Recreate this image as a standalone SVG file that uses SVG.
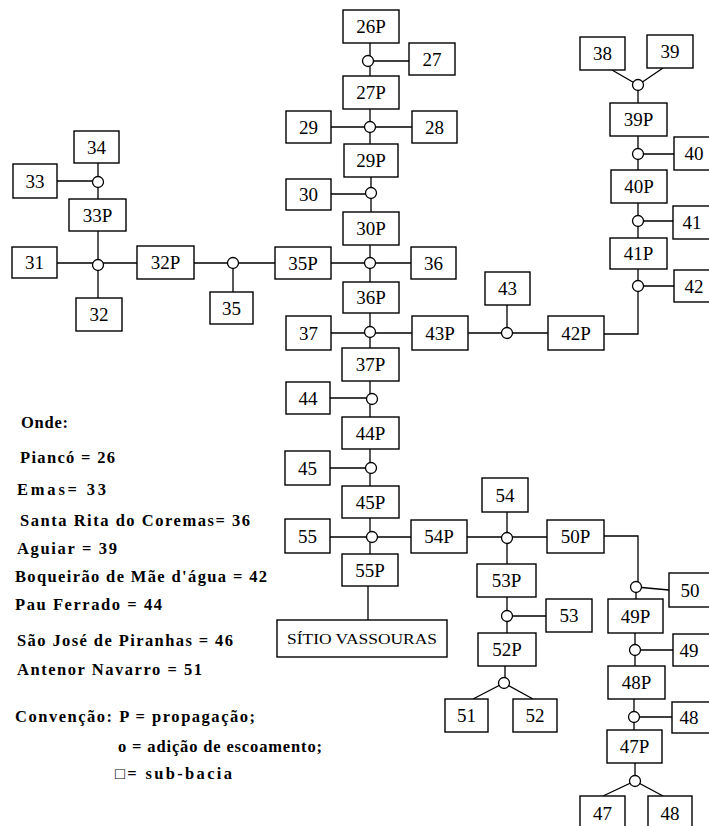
<svg xmlns="http://www.w3.org/2000/svg" width="709" height="826" viewBox="0 0 709 826">
<style>
.b{fill:#fff;stroke:#000;stroke-width:1.4}
.t{font-family:"Liberation Serif","Times New Roman",serif;font-size:19px;text-anchor:middle;fill:#000}
.s{font-family:"Liberation Serif","Times New Roman",serif;font-size:15px;text-anchor:middle;fill:#000}
.c{fill:#fff;stroke:#000;stroke-width:1.3}
.l{stroke:#000;stroke-width:1.3;fill:none}
.g{font-family:"Liberation Serif","DejaVu Serif",serif;font-size:16.5px;font-weight:bold;fill:#000}
</style>
<rect width="709" height="826" fill="#fff"/>
<g id="connectors" class="l">
<path d="M98,163V199M57,181H98M98,231V298M57,263H137M194,263H275M233,263V292M331,263H411M370,245V282"/>
<path d="M370,43V76M368,61H409M370,109V144M331,127H412M371,177V212M331,194H371"/>
<path d="M370,313V348M331,333H412M468,333H548M507,305V333M604,334H638V269M638,286H674M638,203V238M638,221H673M638,136V170M638,154H674M612,70L638,85L663,68M638,85V103"/>
<path d="M370,381V417M330,398H372M370,449V486M330,468H371M370,518V554M330,537H411M368,586V620"/>
<path d="M467,537H547M507,512V564M604,536H638V587M636,587L669,590M636,587V599M507,597V633M507,616H546M505,666V683M473,699L504,683L533,699"/>
<path d="M635,633V666M635,650H673M634,699V730M634,717H672M635,763V781M603,796L635,781L663,796"/>
</g>
<g id="junctions">
<circle class="c" cx="98" cy="182" r="5.5"/>
<circle class="c" cx="98" cy="265" r="5.5"/>
<circle class="c" cx="233" cy="263" r="5.5"/>
<circle class="c" cx="370" cy="263" r="5.5"/>
<circle class="c" cx="368" cy="61" r="5.5"/>
<circle class="c" cx="370" cy="127" r="5.5"/>
<circle class="c" cx="371" cy="193" r="5.5"/>
<circle class="c" cx="370" cy="332" r="5.5"/>
<circle class="c" cx="507" cy="333" r="5.5"/>
<circle class="c" cx="638" cy="286" r="5.5"/>
<circle class="c" cx="638" cy="221" r="5.5"/>
<circle class="c" cx="638" cy="154" r="5.5"/>
<circle class="c" cx="638" cy="85" r="5.5"/>
<circle class="c" cx="372" cy="399" r="5.5"/>
<circle class="c" cx="371" cy="468" r="5.5"/>
<circle class="c" cx="372" cy="537" r="5.5"/>
<circle class="c" cx="507" cy="538" r="5.5"/>
<circle class="c" cx="636" cy="587" r="5.5"/>
<circle class="c" cx="507" cy="616" r="5.5"/>
<circle class="c" cx="504" cy="683" r="5.5"/>
<circle class="c" cx="635" cy="650" r="5.5"/>
<circle class="c" cx="634" cy="717" r="5.5"/>
<circle class="c" cx="635" cy="781" r="5.5"/>
</g>
<g id="n26P"><rect class="b" x="343" y="10" width="56" height="33"/><text class="t" x="371" y="33">26P</text></g>
<g id="n27"><rect class="b" x="409" y="43" width="46" height="32"/><text class="t" x="432" y="66">27</text></g>
<g id="n27P"><rect class="b" x="343" y="76" width="56" height="33"/><text class="t" x="371" y="99">27P</text></g>
<g id="n29"><rect class="b" x="286" y="111" width="45" height="32"/><text class="t" x="308.5" y="134">29</text></g>
<g id="n28"><rect class="b" x="412" y="111" width="45" height="32"/><text class="t" x="434.5" y="134">28</text></g>
<g id="n29P"><rect class="b" x="344" y="144" width="54" height="33"/><text class="t" x="371" y="167">29P</text></g>
<g id="n30"><rect class="b" x="286" y="179" width="45" height="31"/><text class="t" x="308.5" y="201">30</text></g>
<g id="n30P"><rect class="b" x="343" y="212" width="56" height="33"/><text class="t" x="371" y="235">30P</text></g>
<g id="n34"><rect class="b" x="74" y="131" width="45" height="32"/><text class="t" x="96.5" y="154">34</text></g>
<g id="n33"><rect class="b" x="13" y="164" width="44" height="34"/><text class="t" x="35" y="188">33</text></g>
<g id="n33P"><rect class="b" x="69" y="199" width="57" height="32"/><text class="t" x="97.5" y="222">33P</text></g>
<g id="n31"><rect class="b" x="12" y="247" width="45" height="31"/><text class="t" x="34.5" y="269">31</text></g>
<g id="n32P"><rect class="b" x="137" y="246" width="57" height="33"/><text class="t" x="165.5" y="269">32P</text></g>
<g id="n32"><rect class="b" x="76" y="298" width="46" height="33"/><text class="t" x="99" y="321">32</text></g>
<g id="n35"><rect class="b" x="210" y="292" width="43" height="32"/><text class="t" x="231.5" y="315">35</text></g>
<g id="n35P"><rect class="b" x="275" y="247" width="56" height="32"/><text class="t" x="303" y="270">35P</text></g>
<g id="n36"><rect class="b" x="411" y="247" width="45" height="32"/><text class="t" x="433.5" y="270">36</text></g>
<g id="n36P"><rect class="b" x="343" y="282" width="56" height="31"/><text class="t" x="371" y="304">36P</text></g>
<g id="n37"><rect class="b" x="286" y="316" width="45" height="34"/><text class="t" x="308.5" y="340">37</text></g>
<g id="n37P"><rect class="b" x="342" y="348" width="57" height="33"/><text class="t" x="370.5" y="371">37P</text></g>
<g id="n43P"><rect class="b" x="412" y="316" width="56" height="34"/><text class="t" x="440" y="340">43P</text></g>
<g id="n43"><rect class="b" x="485" y="272" width="45" height="33"/><text class="t" x="507.5" y="295">43</text></g>
<g id="n42P"><rect class="b" x="548" y="316" width="56" height="34"/><text class="t" x="576" y="340">42P</text></g>
<g id="n38"><rect class="b" x="580" y="37" width="45" height="33"/><text class="t" x="602.5" y="60">38</text></g>
<g id="n39"><rect class="b" x="647" y="35" width="46" height="33"/><text class="t" x="670" y="58">39</text></g>
<g id="n39P"><rect class="b" x="610" y="103" width="57" height="33"/><text class="t" x="638.5" y="126">39P</text></g>
<g id="n40"><rect class="b" x="674" y="137" width="42" height="33"/><text class="t" x="694" y="160">40</text></g>
<g id="n40P"><rect class="b" x="611" y="170" width="56" height="33"/><text class="t" x="639" y="193">40P</text></g>
<g id="n41"><rect class="b" x="673" y="206" width="43" height="33"/><text class="t" x="692" y="229">41</text></g>
<g id="n41P"><rect class="b" x="610" y="238" width="57" height="31"/><text class="t" x="638.5" y="260">41P</text></g>
<g id="n42"><rect class="b" x="674" y="270" width="42" height="32"/><text class="t" x="694" y="293">42</text></g>
<g id="n44"><rect class="b" x="286" y="382" width="44" height="32"/><text class="t" x="308" y="405">44</text></g>
<g id="n44P"><rect class="b" x="342" y="417" width="57" height="32"/><text class="t" x="370.5" y="440">44P</text></g>
<g id="n45"><rect class="b" x="285" y="451" width="45" height="34"/><text class="t" x="307.5" y="475">45</text></g>
<g id="n45P"><rect class="b" x="342" y="486" width="57" height="32"/><text class="t" x="370.5" y="509">45P</text></g>
<g id="n55"><rect class="b" x="285" y="519" width="45" height="34"/><text class="t" x="307.5" y="543">55</text></g>
<g id="n55P"><rect class="b" x="342" y="554" width="56" height="32"/><text class="t" x="370" y="577">55P</text></g>
<g id="nSitio"><rect class="b" x="277" y="620" width="170" height="37"/><text class="s" x="362" y="644" textLength="150" lengthAdjust="spacingAndGlyphs">SÍTIO VASSOURAS</text></g>
<g id="n54"><rect class="b" x="482" y="478" width="46" height="34"/><text class="t" x="505" y="502">54</text></g>
<g id="n54P"><rect class="b" x="411" y="520" width="56" height="33"/><text class="t" x="439" y="543">54P</text></g>
<g id="n50P"><rect class="b" x="547" y="520" width="57" height="33"/><text class="t" x="575.5" y="543">50P</text></g>
<g id="n50"><rect class="b" x="669" y="573" width="47" height="34"/><text class="t" x="690" y="597">50</text></g>
<g id="n53P"><rect class="b" x="477" y="564" width="59" height="33"/><text class="t" x="506.5" y="587">53P</text></g>
<g id="n53"><rect class="b" x="546" y="599" width="46" height="33"/><text class="t" x="569" y="622">53</text></g>
<g id="n49P"><rect class="b" x="608" y="599" width="55" height="34"/><text class="t" x="635.5" y="623">49P</text></g>
<g id="n52P"><rect class="b" x="478" y="633" width="58" height="33"/><text class="t" x="507" y="656">52P</text></g>
<g id="n51"><rect class="b" x="445" y="699" width="43" height="33"/><text class="t" x="466.5" y="722">51</text></g>
<g id="n52"><rect class="b" x="513" y="699" width="44" height="33"/><text class="t" x="535" y="722">52</text></g>
<g id="n49"><rect class="b" x="673" y="634" width="43" height="32"/><text class="t" x="689" y="657">49</text></g>
<g id="n48P"><rect class="b" x="608" y="666" width="57" height="33"/><text class="t" x="636.5" y="689">48P</text></g>
<g id="n48"><rect class="b" x="672" y="702" width="44" height="31"/><text class="t" x="689" y="724">48</text></g>
<g id="n47P"><rect class="b" x="607" y="730" width="55" height="33"/><text class="t" x="634.5" y="753">47P</text></g>
<g id="n47"><rect class="b" x="580" y="796" width="45" height="36"/><text class="t" x="602.5" y="820">47</text></g>
<g id="n48b"><rect class="b" x="648" y="796" width="44" height="36"/><text class="t" x="670" y="820">48</text></g>
<g id="legend" class="g">
<text x="21" y="428" textLength="47">Onde:</text>
<text x="20" y="463" textLength="95">Piancó = 26</text>
<text x="17" y="495" textLength="89">Emas= 33</text>
<text x="20" y="526" textLength="230">Santa Rita do Coremas= 36</text>
<text x="17" y="554" textLength="100">Aguiar = 39</text>
<text x="15" y="582" textLength="252">Boqueirão de Mãe d'água = 42</text>
<text x="15" y="610" textLength="147">Pau Ferrado = 44</text>
<text x="17" y="646" textLength="216">São José de Piranhas = 46</text>
<text x="17" y="675" textLength="185">Antenor Navarro = 51</text>
<text x="15" y="722" textLength="240">Convenção: P = propagação;</text>
<text x="118" y="752" textLength="204">o = adição de escoamento;</text>
<text x="115" y="779" textLength="117">□= sub-bacia</text>
</g>
</svg>
